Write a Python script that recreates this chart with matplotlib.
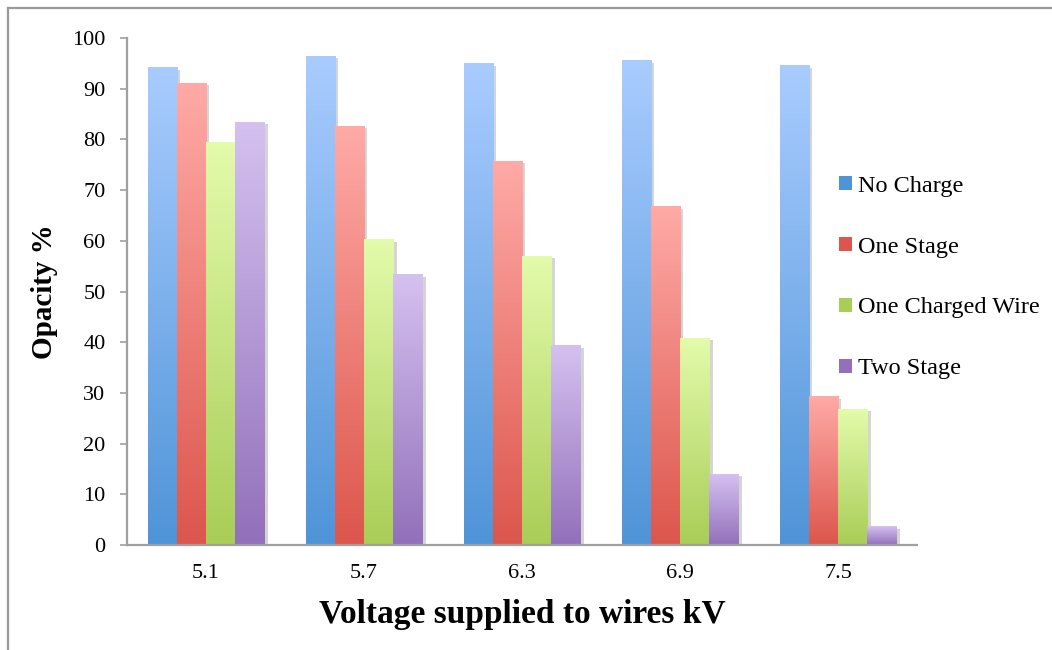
import numpy as np
import matplotlib
matplotlib.use("Agg")
import matplotlib.pyplot as plt
from matplotlib.colors import LinearSegmentedColormap
from matplotlib.patches import Patch
from matplotlib.lines import Line2D
import matplotlib.patheffects as pe

plt.rcParams['font.family'] = ['Liberation Serif', 'DejaVu Serif']

# data
voltages = ["5.1", "5.7", "6.3", "6.9", "7.5"]
no_charge = [94.1, 96.4, 94.9, 95.5, 94.5]
one_stage = [91.1, 82.6, 75.7, 66.7, 29.2]
one_wire = [79.3, 60.2, 57.0, 40.8, 26.8]
two_stage = [83.4, 53.3, 39.3, 14.0, 3.6]

series = ["No Charge", "One Stage", "One Charged Wire", "Two Stage"]
values = [no_charge, one_stage, one_wire, two_stage]
# (bottom colour, top colour) of each gradient
grads = [("#4f94d8", "#a9ccff"),
         ("#dc564c", "#ffaaa6"),
         ("#a9cd57", "#e3fbab"),
         ("#9270ba", "#d5c1f0")]

fig = plt.figure(figsize=(10.52, 6.5), dpi=100)
ax = fig.add_axes([0.1207, 0.1615, 0.7510, 0.78])

x = np.arange(len(voltages))
w = 0.184
grad = np.linspace(0, 1, 256).reshape(-1, 1)

for i, (name, vals, (lo, hi)) in enumerate(zip(series, values, grads)):
    cmap = LinearSegmentedColormap.from_list(name, [lo, hi])
    pos = x + (i - 1.5) * w
    bars = ax.bar(pos, vals, w, color=lo, zorder=2, linewidth=0,
                  path_effects=[pe.SimplePatchShadow(offset=(2.5, -1.5), shadow_rgbFace="#888888", alpha=0.35),
                                pe.Normal()])
    for b in bars:
        x0, h = b.get_x(), b.get_height()
        ax.imshow(grad, cmap=cmap, origin="lower", aspect="auto",
                  extent=[x0, x0 + w, 0, h], zorder=3, interpolation="bilinear")

ax.set_xlim(-0.5, len(voltages) - 0.5)
ax.set_ylim(0, 100)
ax.set_yticks(range(0, 101, 10))
ax.set_xticks(x)
ax.set_xticklabels(voltages)

for s in ["top", "right"]:
    ax.spines[s].set_visible(False)
for s in ["left", "bottom"]:
    ax.spines[s].set_color("#a0a0a0")
    ax.spines[s].set_linewidth(1.6)
    ax.spines[s].set_zorder(5)

ax.tick_params(axis="y", length=5, width=1.2, color="#a0a0a0", labelsize=16, pad=10.5)
ax.tick_params(axis="x", length=0, labelsize=16, pad=14)

ax.set_xlabel("Voltage supplied to wires kV", fontsize=24, fontweight="bold", labelpad=11)
ax.set_ylabel("Opacity %", fontsize=21, fontweight="bold", labelpad=10)

handles = [Patch(facecolor=lo, edgecolor="none") for lo, hi in grads]
fig.legend(handles, series, loc="upper left", bbox_to_anchor=(0.798, 0.7296),
           frameon=False, fontsize=17.5, handlelength=0.52, handleheight=0.52,
           handletextpad=0.25, labelspacing=1.64, borderpad=0, borderaxespad=0)

# partial outer frame (top and left edges)
fig.add_artist(Line2D([8 / 1052, 1], [1 - 8 / 650, 1 - 8 / 650], color="#999999", lw=1.6))
fig.add_artist(Line2D([8 / 1052, 8 / 1052], [0, 1 - 8 / 650], color="#999999", lw=1.6))

fig.savefig("out.png", dpi=100)
